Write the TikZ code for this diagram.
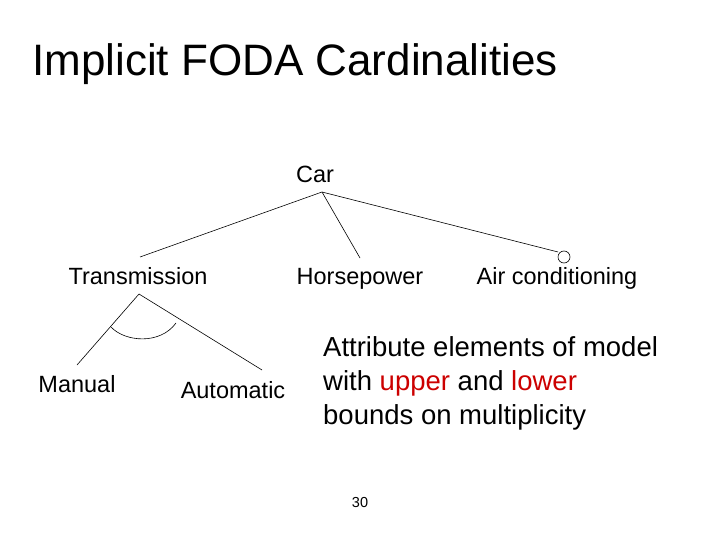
\documentclass[tikz,border=0pt]{standalone}
\usepackage{fontspec}
\setmainfont{Liberation Sans}
\begin{document}
\begin{tikzpicture}[x=1pt,y=-1pt,
  lbl/.style={font=\fontsize{23.5}{28}\selectfont,inner sep=0pt,anchor=base},
  ln/.style={line width=0.6pt}]
\useasboundingbox (0,0) rectangle (720,540);
\node[anchor=base west,inner sep=0pt,font=\fontsize{44}{50}\selectfont] (title) at (32,76) {Implicit FODA Cardinalities};
\node[lbl] (car) at (315,183) {Car};
\node[lbl] (trans) at (138,284) {Transmission};
\node[lbl] (hp) at (360,284) {Horsepower};
\node[lbl] (ac) at (557,284) {Air conditioning};
\node[lbl] (man) at (77,392) {Manual};
\node[lbl] (auto) at (233,398) {Automatic};
\coordinate (c0) at (322,192);
\coordinate (t0) at (140,257);
\coordinate (h0) at (360,258);
\coordinate (a0) at (558,252);
\coordinate (tp) at (139,294);
\coordinate (m0) at (77,365);
\coordinate (u0) at (262,370);
\draw[ln] (c0) -- (t0);
\draw[ln] (c0) -- (h0);
\draw[ln] (c0) -- (a0);
\draw[ln] (564,257) circle (6);
\draw[ln] (tp) -- (m0);
\draw[ln] (tp) -- (u0);
\draw[ln] (111,327) .. controls (125,342) and (160,345) .. (176,323);
\node[anchor=north west,align=left,inner sep=0pt,font=\fontsize{27.5}{34}\selectfont] (note) at (323,336)
  {Attribute elements of model\\with \textcolor{red!80!black}{upper} and \textcolor{red!80!black}{lower}\\bounds on multiplicity};
\node[font=\fontsize{14.5}{16}\selectfont,inner sep=0pt] (pg) at (360,503) {30};
\end{tikzpicture}
\end{document}
